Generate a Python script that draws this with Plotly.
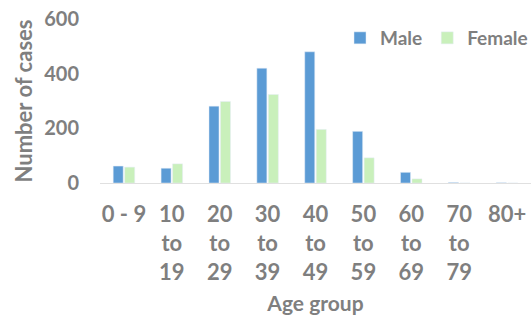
import plotly.graph_objects as go

categories = ["0 - 9", "10<br>to<br>19", "20<br>to<br>29", "30<br>to<br>39", "40<br>to<br>49",
              "50<br>to<br>59", "60<br>to<br>69", "70<br>to<br>79", "80+"]
male = [62, 54, 281, 420, 480, 189, 39, 2, 1]
female = [58, 70, 298, 324, 196, 92, 15, 0, 0]
y_ticks = [0, 200, 400, 600]

TXT = "#7f7f7f"
FONT = "Lato"

fig = go.Figure()
fig.add_trace(go.Bar(name="Male", x=categories, y=male, marker_color="#5b9bd5"))
fig.add_trace(go.Bar(name="Female", x=categories, y=female, marker_color="#c9f0bb"))

fig.update_layout(
    width=531, height=317,
    margin=dict(l=100, r=0, t=19, b=134, autoexpand=False),
    paper_bgcolor="white", plot_bgcolor="white",
    barmode="group", bargap=0.52, bargroupgap=0.13,
    font=dict(family=FONT, color=TXT, size=20, weight="bold"),
    showlegend=True,
    legend=dict(orientation="h", x=(340 - 100) / 431, xanchor="left", y=1.0, yanchor="top",
                font=dict(size=19, color=TXT, family=FONT, weight="bold"),
                itemwidth=30, tracegroupgap=0, bgcolor="rgba(0,0,0,0)"),
    xaxis=dict(showline=True, linecolor="#e0e0e0", linewidth=1, ticks="", automargin=False,
               tickfont=dict(size=22), ticklabelstandoff=12,
               title=dict(text="Age group", font=dict(size=21), standoff=12)),
    yaxis=dict(range=[0, 600], tickvals=y_ticks, showgrid=False, zeroline=False, automargin=False,
               showline=False, ticks="", tickfont=dict(size=20), ticklabelstandoff=20,
               title=dict(text="Number of cases", font=dict(size=22), standoff=5)),
)

fig.write_html("out.html", config={"displayModeBar": False},
               post_script="document.body.style.margin='0';")
